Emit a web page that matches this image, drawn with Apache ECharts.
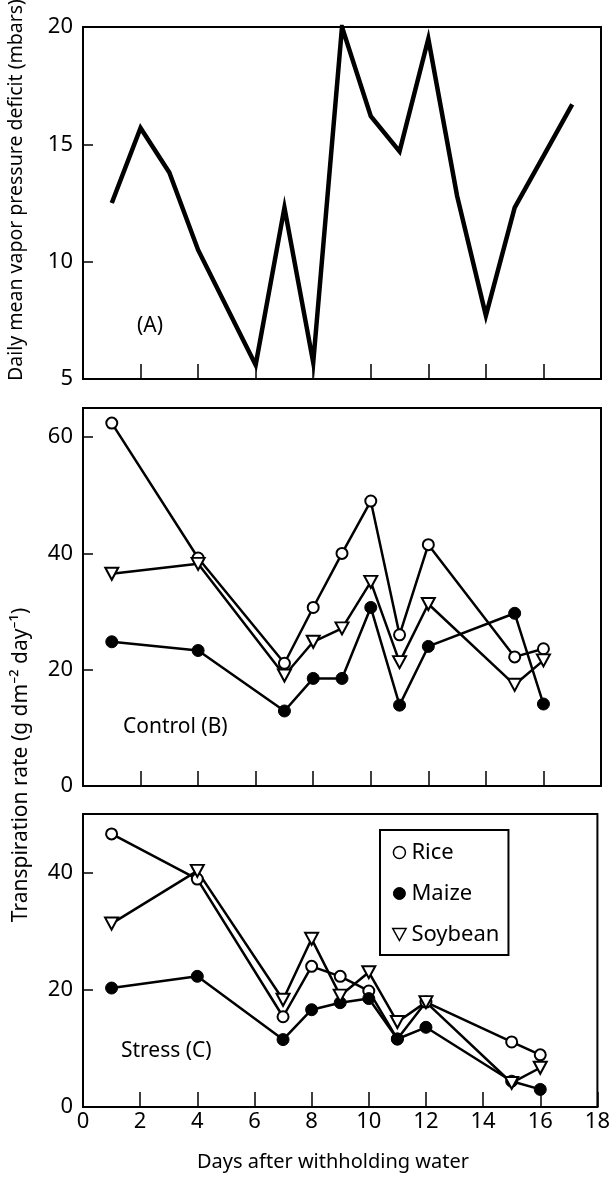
<!DOCTYPE html>
<html>
<head>
<meta charset="utf-8">
<script src="https://cdn.jsdelivr.net/npm/echarts@6/dist/echarts.min.js"></script>
<style>html,body{margin:0;padding:0;background:#fff;}#c{width:613px;height:1177px;}</style>
</head>
<body>
<div id="c"></div>
<script>
// ---- Data ----
const daysA = [1, 2, 3, 4, 6, 7, 8, 9, 10, 11, 12, 13, 14, 15, 16, 17];
const vpd = [12.5, 15.7, 13.8, 10.5, 5.6, 12.3, 5.7, 20.0, 16.2, 14.7, 19.5, 12.8, 7.7, 12.3, 14.5, 16.7];

const days = [1, 4, 7, 8, 9, 10, 11, 12, 15, 16];
const riceControl = [62.4, 39.2, 21.1, 30.7, 40.0, 49.0, 26.0, 41.5, 22.2, 23.6];
const maizeControl = [24.8, 23.3, 12.9, 18.5, 18.5, 30.7, 13.9, 24.0, 29.7, 14.1];
const soyControl = [36.5, 38.2, 19.0, 24.8, 27.1, 35.1, 21.3, 31.3, 17.4, 21.6];

const riceStress = [46.6, 38.9, 15.4, 24.0, 22.3, 19.8, 11.6, 17.9, 11.1, 8.9];
const maizeStress = [20.3, 22.3, 11.5, 16.6, 17.8, 18.5, 11.6, 13.6, 4.4, 3.0];
const soyStress = [31.3, 40.3, 18.3, 28.7, 19.0, 23.0, 14.5, 17.9, 4.1, 6.7];

const speciesNames = ['Rice', 'Maize', 'Soybean'];
const panelLabels = ['(A)', 'Control (B)', 'Stress (C)'];
const yTitleA = 'Daily mean vapor pressure deficit (mbars)';
const yTitleBC = 'Transpiration rate (g dm\u207B\u00B2 day\u207B\u00B9)';
const xTitle = 'Days after withholding water';

// ---- Helpers ----
const FONT = 'Noto Sans';
const pair = (xs, ys) => xs.map((x, i) => [x, ys[i]]);
const triDown = 'path://M0,0 L10,0 L5,9 Z';

const grids = [
  {left: 83, top: 27, width: 518, height: 352},
  {left: 83, top: 408, width: 518, height: 378},
  {left: 83, top: 814, width: 518, height: 293}
].map(g => Object.assign(g, {show: true, borderColor: '#000', borderWidth: 2, backgroundColor: 'transparent'}));

function xAx(i, showLabels) {
  return {
    type: 'value', gridIndex: i, min: 0, max: 18, interval: 2,
    axisLine: {show: false},
    axisTick: {show: true, inside: true, length: 15, lineStyle: {color: '#000', width: 1.5}},
    axisLabel: {show: showLabels, color: '#000', fontSize: 22, fontFamily: FONT, margin: 4},
    splitLine: {show: false}
  };
}
function yAx(i, min, max, interval) {
  return {
    type: 'value', gridIndex: i, min: min, max: max, interval: interval,
    axisLine: {show: false},
    axisTick: {show: true, inside: true, length: 10, lineStyle: {color: '#000', width: 1.5}},
    axisLabel: {color: '#000', fontSize: 22, fontFamily: FONT, margin: 10,
      formatter: v => (Math.abs(v / interval - Math.round(v / interval)) < 1e-6 ? String(v) : '')},
    splitLine: {show: false}
  };
}

const openCircle = {symbol: 'circle', symbolSize: 11, itemStyle: {color: '#fff', borderColor: '#000', borderWidth: 2}};
const filledCircle = {symbol: 'circle', symbolSize: 12, itemStyle: {color: '#000', borderColor: '#000', borderWidth: 1}};
const openTri = {symbol: triDown, symbolSize: [13, 12], itemStyle: {color: '#fff', borderColor: '#000', borderWidth: 2}};

function sp(name, gi, ys, style) {
  return Object.assign({
    type: 'line', name: name, xAxisIndex: gi, yAxisIndex: gi,
    data: pair(days, ys), showSymbol: true, animation: false,
    lineStyle: {color: '#000', width: 2.5}, z: 3
  }, JSON.parse(JSON.stringify(style)));
}

const txt = (s, size) => ({text: s, fontSize: size, fontFamily: FONT, fill: '#000'});

const chart = echarts.init(document.getElementById('c'), null, {renderer: 'canvas'});
chart.setOption({
  backgroundColor: '#fff',
  animation: false,
  grid: grids,
  xAxis: [xAx(0, false), xAx(1, false), xAx(2, true)],
  yAxis: [yAx(0, 5, 20, 5), yAx(1, 0, 65, 20), yAx(2, 0, 50, 20)],
  legend: {
    orient: 'vertical', left: 380, top: 830,
    padding: [10, 9, 8, 12],
    borderColor: '#000', borderWidth: 2,
    itemWidth: 14, itemHeight: 12, itemGap: 16,
    textStyle: {color: '#000', fontSize: 22, fontFamily: FONT, lineHeight: 25},
    data: [
      {name: speciesNames[0], icon: 'circle', itemStyle: {color: '#fff', borderColor: '#000', borderWidth: 1.5}},
      {name: speciesNames[1], icon: 'circle', itemStyle: {color: '#000', borderColor: '#000', borderWidth: 1}},
      {name: speciesNames[2], icon: triDown, itemStyle: {color: '#fff', borderColor: '#000', borderWidth: 1.5}}
    ],
    selectedMode: false
  },
  series: [
    {type: 'line', xAxisIndex: 0, yAxisIndex: 0, data: pair(daysA, vpd), showSymbol: false,
     symbol: 'none', lineStyle: {color: '#000', width: 4.5, join: 'miter'}},
    sp(speciesNames[0], 1, riceControl, openCircle),
    sp(speciesNames[1], 1, maizeControl, filledCircle),
    sp(speciesNames[2], 1, soyControl, openTri),
    sp(speciesNames[0], 2, riceStress, openCircle),
    sp(speciesNames[1], 2, maizeStress, filledCircle),
    sp(speciesNames[2], 2, soyStress, openTri)
  ],
  graphic: [
    {type: 'text', left: 137, top: 316, style: txt(panelLabels[0], 21)},
    {type: 'text', left: 123, top: 717, style: txt(panelLabels[1], 21)},
    {type: 'text', left: 121, top: 1041, style: txt(panelLabels[2], 21)},
    {type: 'text', x: 16, y: 190, rotation: Math.PI / 2,
     style: Object.assign(txt(yTitleA, 19.5), {align: 'center', verticalAlign: 'middle'})},
    {type: 'text', x: 21, y: 765, rotation: Math.PI / 2,
     style: Object.assign(txt(yTitleBC, 21), {align: 'center', verticalAlign: 'middle'})},
    {type: 'text', x: 333, y: 1162,
     style: Object.assign(txt(xTitle, 20), {align: 'center', verticalAlign: 'middle'})}
  ]
});
</script>
</body>
</html>
